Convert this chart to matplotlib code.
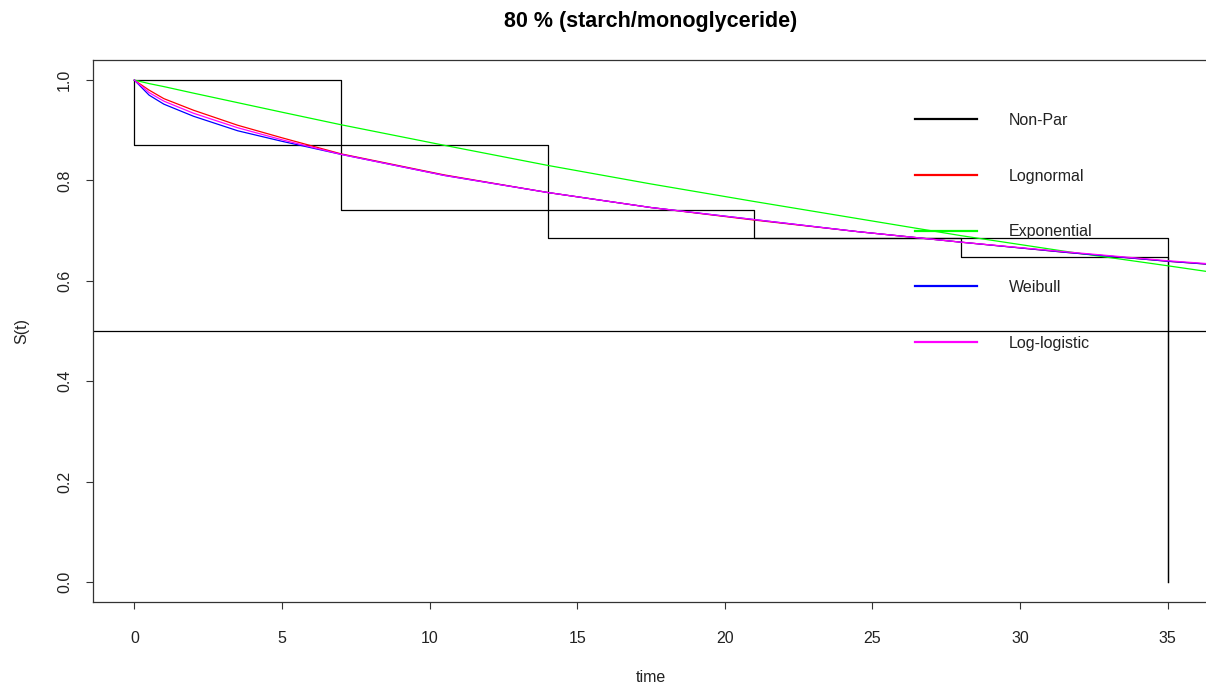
import numpy as np
import matplotlib
matplotlib.use("Agg")
import matplotlib.pyplot as plt

plt.rcParams['font.family'] = ['Liberation Sans', 'DejaVu Sans']

# Turnbull-type nonparametric bounds (upper / lower step functions)
upper_t = [0, 7, 21, 35]
upper_s = [1.0, 0.742, 0.686, 0.0]
lower_t = [0, 0, 14, 28, 35]
lower_s = [1.0, 0.87, 0.686, 0.648, 0.0]

# fitted parametric survival curves, read at these times
fit_t = [0, 0.5, 1, 2, 3.5, 5, 7, 10.5, 14, 17.5, 21, 24.5, 28, 31.5, 35, 36.4]
s_lognormal = [1.0, 0.980, 0.963, 0.940, 0.910, 0.885, 0.853, 0.811, 0.776, 0.746,
               0.721, 0.698, 0.677, 0.657, 0.639, 0.633]
s_exponential = [1.0, 0.993, 0.987, 0.974, 0.955, 0.936, 0.911, 0.870, 0.830, 0.793,
                 0.758, 0.724, 0.690, 0.659, 0.630, 0.618]
s_weibull = [1.0, 0.970, 0.952, 0.928, 0.899, 0.878, 0.852, 0.810, 0.776, 0.746,
             0.722, 0.698, 0.677, 0.657, 0.639, 0.633]
s_loglogistic = [1.0, 0.975, 0.958, 0.934, 0.905, 0.881, 0.852, 0.810, 0.776, 0.746,
                 0.722, 0.698, 0.677, 0.658, 0.640, 0.634]

fig = plt.figure(figsize=(12.06, 6.89), dpi=100)
ax = fig.add_axes([93 / 1206, 87 / 689, 1116 / 1206, 542 / 689])

l_np, = ax.plot(upper_t, upper_s, color='black', lw=0.9, drawstyle='steps-post')
ax.plot(lower_t, lower_s, color='black', lw=0.9, drawstyle='steps-post')
ax.axhline(0.5, color='black', lw=0.9)

l_ln, = ax.plot(fit_t, s_lognormal, color='#ff0000', lw=0.9)
l_ex, = ax.plot(fit_t, s_exponential, color='#00ff00', lw=0.9)
l_wb, = ax.plot(fit_t, s_weibull, color='#0000ff', lw=0.9)
l_ll, = ax.plot(fit_t, s_loglogistic, color='#ff00ff', lw=0.9)

ax.set_xlim(-1.4, 36.4)
ax.set_ylim(-0.04, 1.04)
ax.set_xticks([0, 5, 10, 15, 20, 25, 30, 35])
ax.set_yticks([0.0, 0.2, 0.4, 0.6, 0.8, 1.0])
ax.set_yticklabels(['0.0', '0.2', '0.4', '0.6', '0.8', '1.0'], rotation=90, va='center')
ax.tick_params(axis='both', direction='out', length=5, width=0.8, labelsize=11.5,
               color='#333333', labelcolor='#222222')
ax.tick_params(axis='x', pad=16)
ax.tick_params(axis='y', pad=10)
for sp in ax.spines.values():
    sp.set_color('#333333')
    sp.set_linewidth(0.9)

ax.set_xlabel('time', fontsize=11.5, color='#222222', labelpad=17)
ax.set_ylabel('S(t)', fontsize=11.5, color='#222222', labelpad=20)
ax.set_title('80 % (starch/monoglyceride)', fontsize=15.5, fontweight='bold', pad=24)

leg = ax.legend([l_np, l_ln, l_ex, l_wb, l_ll],
                ['Non-Par', 'Lognormal', 'Exponential', 'Weibull', 'Log-logistic'],
                loc='upper left', bbox_to_anchor=((913 - 93) / 1116 - 0.01, 1 - (100 - 60) / 542),
                frameon=False, fontsize=11.5, handlelength=3.9, handletextpad=2.0,
                labelspacing=2.55, borderpad=0.3)
for h in leg.get_lines():
    h.set_linewidth(1.6)
for t in leg.get_texts():
    t.set_color('#222222')

fig.savefig('out.png', dpi=100)
